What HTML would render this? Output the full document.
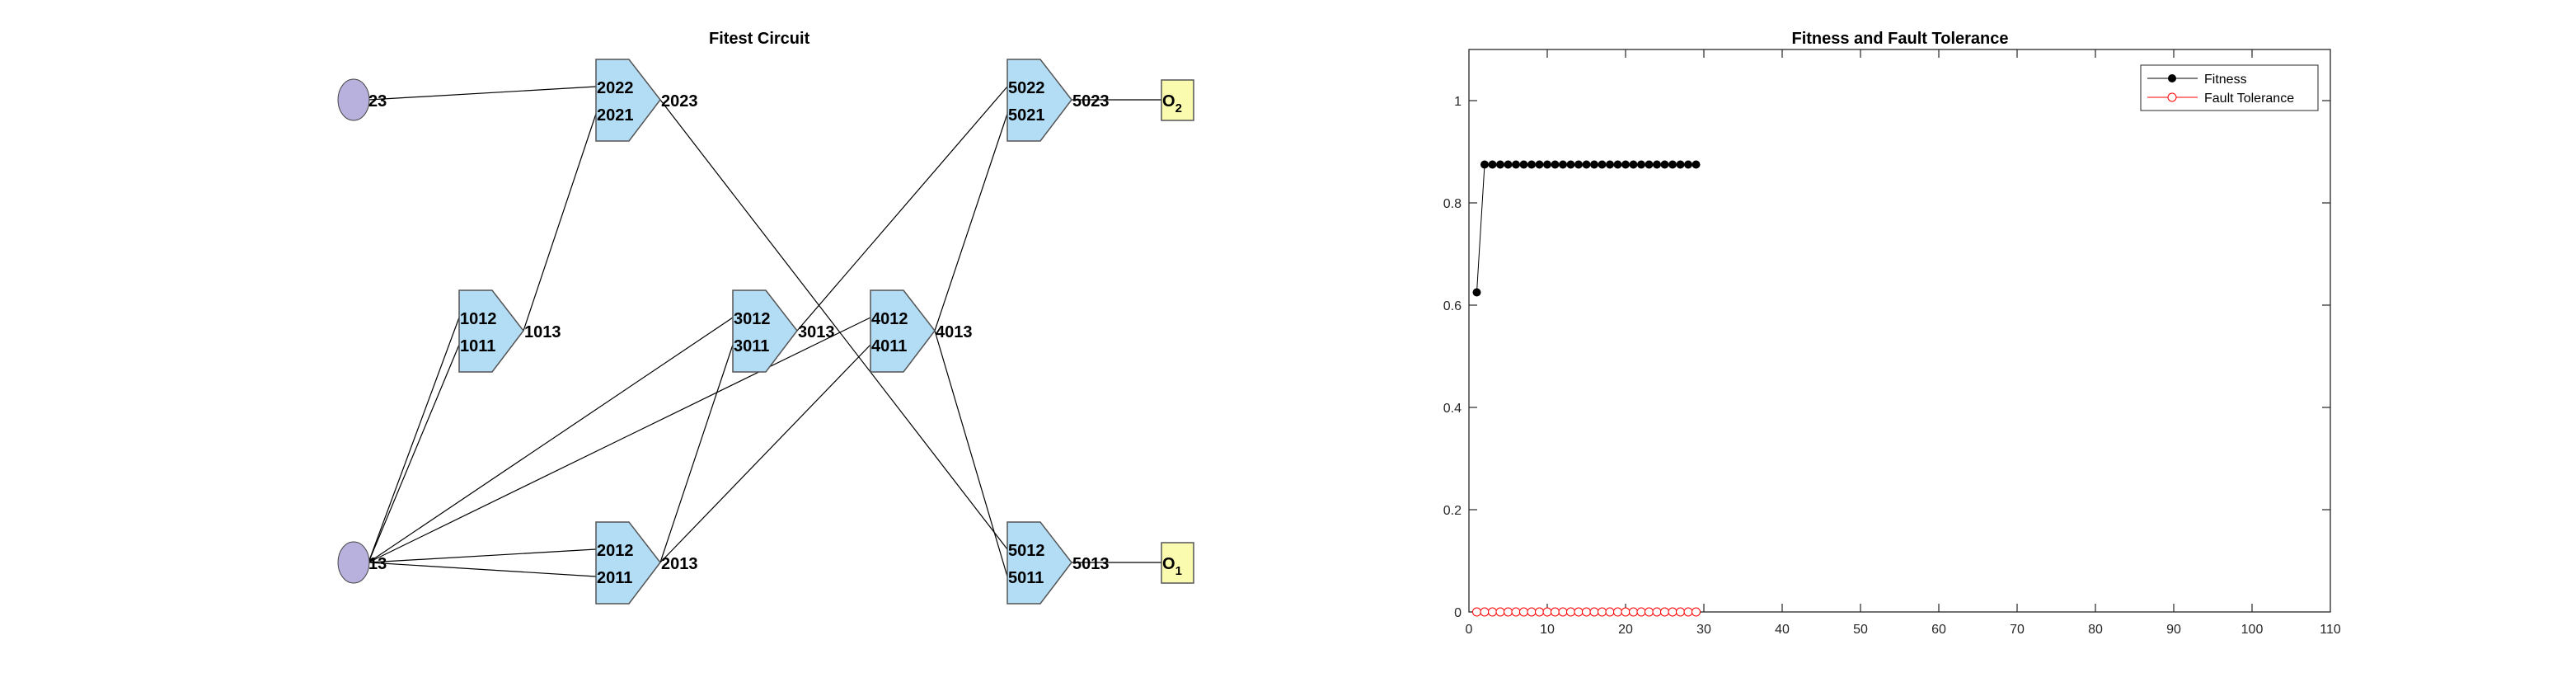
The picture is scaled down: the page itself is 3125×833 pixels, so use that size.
<!DOCTYPE html>
<html><head><meta charset="utf-8"><style>
html,body{margin:0;padding:0;background:#fff;}
svg{display:block;font-family:"Liberation Sans",sans-serif;}
.g{fill:#b3dcf5;stroke:#555;stroke-width:1.5;}
.l{stroke:#000;stroke-width:1.2;fill:none;}
.t{font-weight:bold;font-size:20px;fill:#000;}
.k{font-size:16px;fill:#262626;}
</style></head><body>
<svg width="3125" height="833" viewBox="0 0 3125 833">
<rect width="3125" height="833" fill="#fff"/>
<text x="860" y="53" class="t">Fitest Circuit</text>
<g class="l">
<line x1="447" y1="121" x2="723" y2="105"/>
<line x1="635" y1="401" x2="723" y2="138"/>
<line x1="447" y1="682" x2="557" y2="385"/>
<line x1="447" y1="682" x2="557" y2="418"/>
<line x1="447" y1="682" x2="889" y2="385"/>
<line x1="447" y1="682" x2="1056" y2="385"/>
<line x1="447" y1="682" x2="723" y2="666"/>
<line x1="447" y1="682" x2="723" y2="699"/>
<line x1="801" y1="682" x2="889" y2="418"/>
<line x1="801" y1="682" x2="1056" y2="418"/>
<line x1="801" y1="121" x2="1222" y2="666"/>
<line x1="967" y1="401" x2="1222" y2="105"/>
<line x1="1134" y1="401" x2="1222" y2="138"/>
<line x1="1134" y1="401" x2="1222" y2="699"/>
<line x1="1300" y1="121" x2="1409" y2="121"/>
<line x1="1300" y1="682" x2="1409" y2="682"/>
</g>
<g>
<path class="g" d="M557,352 L597,352 L635,401 L597,451 L557,451 Z"/>
<path class="g" d="M723,72 L763,72 L801,121 L763,171 L723,171 Z"/>
<path class="g" d="M723,633 L763,633 L801,682 L763,732 L723,732 Z"/>
<path class="g" d="M889,352 L929,352 L967,401 L929,451 L889,451 Z"/>
<path class="g" d="M1056,352 L1096,352 L1134,401 L1096,451 L1056,451 Z"/>
<path class="g" d="M1222,72 L1262,72 L1300,121 L1262,171 L1222,171 Z"/>
<path class="g" d="M1222,633 L1262,633 L1300,682 L1262,732 L1222,732 Z"/>
</g>
<g class="t">
<text x="558" y="393">1012</text><text x="558" y="426">1011</text><text x="636" y="409">1013</text>
<text x="724" y="113">2022</text><text x="724" y="146">2021</text><text x="802" y="129">2023</text>
<text x="724" y="674">2012</text><text x="724" y="707">2011</text><text x="802" y="690">2013</text>
<text x="890" y="393">3012</text><text x="890" y="426">3011</text><text x="968" y="409">3013</text>
<text x="1057" y="393">4012</text><text x="1057" y="426">4011</text><text x="1135" y="409">4013</text>
<text x="1223" y="113">5022</text><text x="1223" y="146">5021</text><text x="1301" y="129">5023</text>
<text x="1223" y="674">5012</text><text x="1223" y="707">5011</text><text x="1301" y="690">5013</text>
</g>
<ellipse cx="429" cy="121" rx="19" ry="25" fill="#b9b1dd" stroke="#444" stroke-width="1"/>
<ellipse cx="429" cy="682" rx="19" ry="25" fill="#b9b1dd" stroke="#444" stroke-width="1"/>
<text x="447" y="129" class="t">23</text>
<text x="447" y="690" class="t">13</text>
<rect x="1409" y="97" width="39" height="49" fill="#fbfbb0" stroke="#555" stroke-width="1.5"/>
<rect x="1409" y="658" width="39" height="49" fill="#fbfbb0" stroke="#555" stroke-width="1.5"/>
<text x="1410" y="129" class="t">O<tspan font-size="15" dy="7">2</tspan></text>
<text x="1410" y="690" class="t">O<tspan font-size="15" dy="7">1</tspan></text>

<text x="2305" y="53" class="t" text-anchor="middle">Fitness and Fault Tolerance</text>
<rect x="1782" y="60" width="1045" height="682" fill="none" stroke="#262626" stroke-width="1.3"/>
<g stroke="#262626" stroke-width="1.2">
<line x1="1877" y1="742" x2="1877" y2="732"/><line x1="1972" y1="742" x2="1972" y2="732"/>
<line x1="2067" y1="742" x2="2067" y2="732"/><line x1="2162" y1="742" x2="2162" y2="732"/>
<line x1="2257" y1="742" x2="2257" y2="732"/><line x1="2352" y1="742" x2="2352" y2="732"/>
<line x1="2447" y1="742" x2="2447" y2="732"/><line x1="2542" y1="742" x2="2542" y2="732"/>
<line x1="2637" y1="742" x2="2637" y2="732"/><line x1="2732" y1="742" x2="2732" y2="732"/>
<line x1="1877" y1="60" x2="1877" y2="70"/><line x1="1972" y1="60" x2="1972" y2="70"/>
<line x1="2067" y1="60" x2="2067" y2="70"/><line x1="2162" y1="60" x2="2162" y2="70"/>
<line x1="2257" y1="60" x2="2257" y2="70"/><line x1="2352" y1="60" x2="2352" y2="70"/>
<line x1="2447" y1="60" x2="2447" y2="70"/><line x1="2542" y1="60" x2="2542" y2="70"/>
<line x1="2637" y1="60" x2="2637" y2="70"/><line x1="2732" y1="60" x2="2732" y2="70"/>
<line x1="1782" y1="618" x2="1792" y2="618"/><line x1="1782" y1="494" x2="1792" y2="494"/>
<line x1="1782" y1="370" x2="1792" y2="370"/><line x1="1782" y1="246" x2="1792" y2="246"/>
<line x1="1782" y1="122" x2="1792" y2="122"/>
<line x1="2827" y1="618" x2="2817" y2="618"/><line x1="2827" y1="494" x2="2817" y2="494"/>
<line x1="2827" y1="370" x2="2817" y2="370"/><line x1="2827" y1="246" x2="2817" y2="246"/>
<line x1="2827" y1="122" x2="2817" y2="122"/>
</g>
<g class="k" text-anchor="middle">
<text x="1782" y="768">0</text><text x="1877" y="768">10</text><text x="1972" y="768">20</text>
<text x="2067" y="768">30</text><text x="2162" y="768">40</text><text x="2257" y="768">50</text>
<text x="2352" y="768">60</text><text x="2447" y="768">70</text><text x="2542" y="768">80</text>
<text x="2637" y="768">90</text><text x="2732" y="768">100</text><text x="2827" y="768">110</text>
</g>
<g class="k" text-anchor="end">
<text x="1773" y="748">0</text><text x="1773" y="624">0.2</text><text x="1773" y="500">0.4</text>
<text x="1773" y="376">0.6</text><text x="1773" y="252">0.8</text><text x="1773" y="128">1</text>
</g>
<polyline fill="none" stroke="#000" stroke-width="1" points="1791.5,354.5 1801,199.5 2057.5,199.5"/>
<line x1="1791.5" y1="742" x2="2057.5" y2="742" stroke="#f00" stroke-width="1"/>
<g fill="#000">
<circle cx="1791.5" cy="354.5" r="5"/>
<circle cx="1801" cy="199.5" r="5"/><circle cx="1810.5" cy="199.5" r="5"/><circle cx="1820" cy="199.5" r="5"/>
<circle cx="1829.5" cy="199.5" r="5"/><circle cx="1839" cy="199.5" r="5"/><circle cx="1848.5" cy="199.5" r="5"/>
<circle cx="1858" cy="199.5" r="5"/><circle cx="1867.5" cy="199.5" r="5"/><circle cx="1877" cy="199.5" r="5"/>
<circle cx="1886.5" cy="199.5" r="5"/><circle cx="1896" cy="199.5" r="5"/><circle cx="1905.5" cy="199.5" r="5"/>
<circle cx="1915" cy="199.5" r="5"/><circle cx="1924.5" cy="199.5" r="5"/><circle cx="1934" cy="199.5" r="5"/>
<circle cx="1943.5" cy="199.5" r="5"/><circle cx="1953" cy="199.5" r="5"/><circle cx="1962.5" cy="199.5" r="5"/>
<circle cx="1972" cy="199.5" r="5"/><circle cx="1981.5" cy="199.5" r="5"/><circle cx="1991" cy="199.5" r="5"/>
<circle cx="2000.5" cy="199.5" r="5"/><circle cx="2010" cy="199.5" r="5"/><circle cx="2019.5" cy="199.5" r="5"/>
<circle cx="2029" cy="199.5" r="5"/><circle cx="2038.5" cy="199.5" r="5"/><circle cx="2048" cy="199.5" r="5"/>
<circle cx="2057.5" cy="199.5" r="5"/>
</g>
<g fill="#fff" stroke="#f00" stroke-width="1">
<circle cx="1791.5" cy="742" r="5"/>
<circle cx="1801" cy="742" r="5"/><circle cx="1810.5" cy="742" r="5"/><circle cx="1820" cy="742" r="5"/>
<circle cx="1829.5" cy="742" r="5"/><circle cx="1839" cy="742" r="5"/><circle cx="1848.5" cy="742" r="5"/>
<circle cx="1858" cy="742" r="5"/><circle cx="1867.5" cy="742" r="5"/><circle cx="1877" cy="742" r="5"/>
<circle cx="1886.5" cy="742" r="5"/><circle cx="1896" cy="742" r="5"/><circle cx="1905.5" cy="742" r="5"/>
<circle cx="1915" cy="742" r="5"/><circle cx="1924.5" cy="742" r="5"/><circle cx="1934" cy="742" r="5"/>
<circle cx="1943.5" cy="742" r="5"/><circle cx="1953" cy="742" r="5"/><circle cx="1962.5" cy="742" r="5"/>
<circle cx="1972" cy="742" r="5"/><circle cx="1981.5" cy="742" r="5"/><circle cx="1991" cy="742" r="5"/>
<circle cx="2000.5" cy="742" r="5"/><circle cx="2010" cy="742" r="5"/><circle cx="2019.5" cy="742" r="5"/>
<circle cx="2029" cy="742" r="5"/><circle cx="2038.5" cy="742" r="5"/><circle cx="2048" cy="742" r="5"/>
<circle cx="2057.5" cy="742" r="5"/>
</g>
<rect x="2597" y="79" width="215" height="55" fill="#fff" stroke="#262626" stroke-width="1"/>
<line x1="2605" y1="95" x2="2666" y2="95" stroke="#000" stroke-width="1"/>
<circle cx="2635" cy="95" r="5" fill="#000"/>
<line x1="2605" y1="118" x2="2666" y2="118" stroke="#f00" stroke-width="1"/>
<circle cx="2635" cy="118" r="5" fill="#fff" stroke="#f00"/>
<text x="2674" y="101" font-size="16" fill="#000">Fitness</text>
<text x="2674" y="124" font-size="16" fill="#000">Fault Tolerance</text>
</svg>
</body></html>
